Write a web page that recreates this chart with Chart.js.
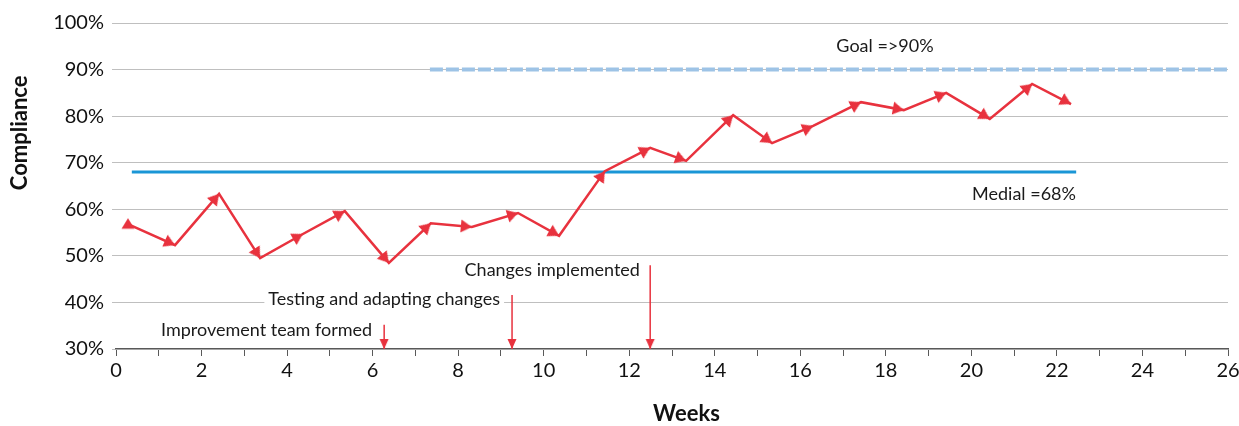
<!DOCTYPE html>
<html><head><meta charset="utf-8">
<script src="https://cdn.jsdelivr.net/npm/chart.js@4"></script>
<style>html,body{margin:0;padding:0;background:#fff}#wrap{width:1239px;height:426px}</style>
</head><body><div id="wrap"><canvas id="c" width="1239" height="426"></canvas></div>
<script>
// ---- data ----
const weeks = [0.28,1.38,2.41,3.37,4.37,5.35,6.38,7.36,8.32,9.40,10.36,11.43,12.49,13.33,14.43,15.34,16.30,17.42,18.42,19.41,20.43,21.42,22.33];
const compliance = [56.8,52.3,63.3,49.5,54.7,59.6,48.5,57.0,56.2,59.2,54.3,68.2,73.2,70.4,80.2,74.2,77.9,83.0,81.3,85.0,79.4,86.9,82.6];
const medialX = [0.37,22.45];
const medialValue = 68;
const goalX = [7.34,26];
const goalValue = 90;
const eventWeeks = [6.27,9.26,12.49];
const eventTops = [35.2,41.6,48.0];
const eventLabels = ['Improvement team formed','Testing and adapting changes','Changes implemented'];
const eventLabelX = [5.99,8.98,12.25];
const eventLabelY = [34.1,40.7,47.0];
const lineLabels = ['Goal =>90%','Medial =68%'];
const lineLabelX = [17.98,21.23];
const lineLabelY = [95.1,63.3];
const yTicks = [30,40,50,60,70,80,90,100];

const RED = '#E8323E';
const FONT = 'Lato, "Noto Sans", sans-serif';

const mainPts = weeks.map((w,i)=>({x:w,y:compliance[i]}));

// arrowhead image: tip at the image centre, pointing up
function makeHead(halfW, len){
  const s = Math.ceil(len)*2 + 2;
  const cv = document.createElement('canvas');
  cv.width = s; cv.height = s;
  const g = cv.getContext('2d');
  const cx = s/2, cy = s/2;
  g.fillStyle = RED;
  g.beginPath();
  g.moveTo(cx, cy);
  g.lineTo(cx + halfW, cy + len);
  g.lineTo(cx - halfW, cy + len);
  g.closePath();
  g.fill();
  return cv;
}
const mainHead = makeHead(6.5, 11);
const firstHead = (()=>{ // first marker: centred triangle
  const cv = document.createElement('canvas'); cv.width = 22; cv.height = 22;
  const g = cv.getContext('2d'); g.fillStyle = RED; g.beginPath();
  g.moveTo(11, 5); g.lineTo(17.5, 15.5); g.lineTo(4.5, 15.5); g.closePath(); g.fill(); return cv;
})();
const eventHead = makeHead(4.5, 10);

function arrowRotation(ctx){
  const i = ctx.dataIndex;
  if (i === 0 || ctx.type !== 'data') return 0;
  const ch = ctx.chart, xs = ch.scales.x, ys = ch.scales.y;
  const d = ctx.dataset.data;
  const x0 = xs.getPixelForValue(d[i-1].x), y0 = ys.getPixelForValue(d[i-1].y);
  const x1 = xs.getPixelForValue(d[i].x), y1 = ys.getPixelForValue(d[i].y);
  return Math.atan2(y1-y0, x1-x0)*180/Math.PI + 90;
}

const eventSets = eventWeeks.map((w,i)=>({
  data:[{x:w,y:eventTops[i]},{x:w,y:30}],
  showLine:true,
  borderColor:RED, backgroundColor:RED, borderWidth:1.5,
  pointStyle:eventHead, pointRadius:[0,5], pointRotation:180,
  pointBorderWidth:0, clip:false, order:1
}));

const labelPlugin = {
  id:'labels',
  beforeDatasetsDraw(chart){
    const c = chart.ctx, xs = chart.scales.x, ys = chart.scales.y, a = chart.chartArea;
    c.save();
    c.font = '18px ' + FONT;
    c.textBaseline = 'middle';
    eventLabels.forEach((t,i)=>{
      const px = xs.getPixelForValue(eventLabelX[i]), py = ys.getPixelForValue(eventLabelY[i]);
      const w = c.measureText(t).width;
      c.fillStyle = '#fff';
      c.fillRect(px - w - 4, py - 10, w + 8, 20);
      c.fillStyle = '#1a1a1a';
      c.textAlign = 'right';
      c.fillText(t, px, py);
    });
    lineLabels.forEach((t,i)=>{
      const px = xs.getPixelForValue(lineLabelX[i]), py = ys.getPixelForValue(lineLabelY[i]);
      c.fillStyle = '#1a1a1a';
      c.textAlign = 'center';
      c.fillText(t, px, py);
    });
    // x axis title
    c.font = 'bold 22px ' + FONT;
    c.fillStyle = '#111';
    c.textAlign = 'center';
    c.fillText('Weeks', a.left + (a.right - a.left)*0.513, 414);
    // y axis title
    c.translate(20, a.top + (a.bottom - a.top)*0.337);
    c.rotate(-Math.PI/2);
    c.fillText('Compliance', 0, 0);
    c.restore();
  }
};

new Chart(document.getElementById('c'), {
  type:'scatter',
  data:{datasets:[
    {data:[{x:goalX[0],y:goalValue},{x:goalX[1],y:goalValue}], showLine:true, borderColor:'#9DC3E6', borderWidth:4, borderDash:[13,3], pointRadius:0, order:3},
    {data:[{x:medialX[0],y:medialValue},{x:medialX[1],y:medialValue}], showLine:true, borderColor:'#1A96D6', borderWidth:3, pointRadius:0, order:2},
    ...eventSets,
    {data:mainPts, showLine:true, borderColor:RED, backgroundColor:RED, borderWidth:2.5,
     pointStyle:(ctx)=> ctx.dataIndex === 0 ? firstHead : mainHead,
     pointRadius:6, pointBorderWidth:0, pointRotation:arrowRotation, order:0}
  ]},
  options:{
    responsive:false, animation:false, devicePixelRatio:1,
    layout:{padding:{top:23,right:11,left:0,bottom:0}},
    plugins:{legend:{display:false}, tooltip:{enabled:false}},
    scales:{
      x:{type:'linear', min:0, max:26,
        afterFit(s){s.height=77; s.paddingRight=0; s.paddingLeft=0;},
        ticks:{stepSize:1, autoSkip:false, maxRotation:0, color:'#111', font:{family:FONT,size:20}, padding:3,
          callback:(v)=> (v%2===0 ? String(v) : '')},
        grid:{drawOnChartArea:false, drawTicks:true, tickLength:7, color:'#595959'},
        border:{display:true, color:'#595959', width:1.3},
        title:{display:false}
      },
      y:{type:'linear', min:30, max:100,
        afterFit(s){s.width=116; s.paddingTop=0; s.paddingBottom=0;},
        afterBuildTicks(s){s.ticks = yTicks.map(v=>({value:v}));},
        ticks:{color:'#111', font:{family:FONT,size:20}, padding:8, callback:(v)=>v+'%'},
        grid:{color:'#BFBFBF', lineWidth:1, tickLength:4, drawTicks:true},
        border:{display:false}
      }
    }
  },
  plugins:[labelPlugin]
});
</script>
</body></html>
